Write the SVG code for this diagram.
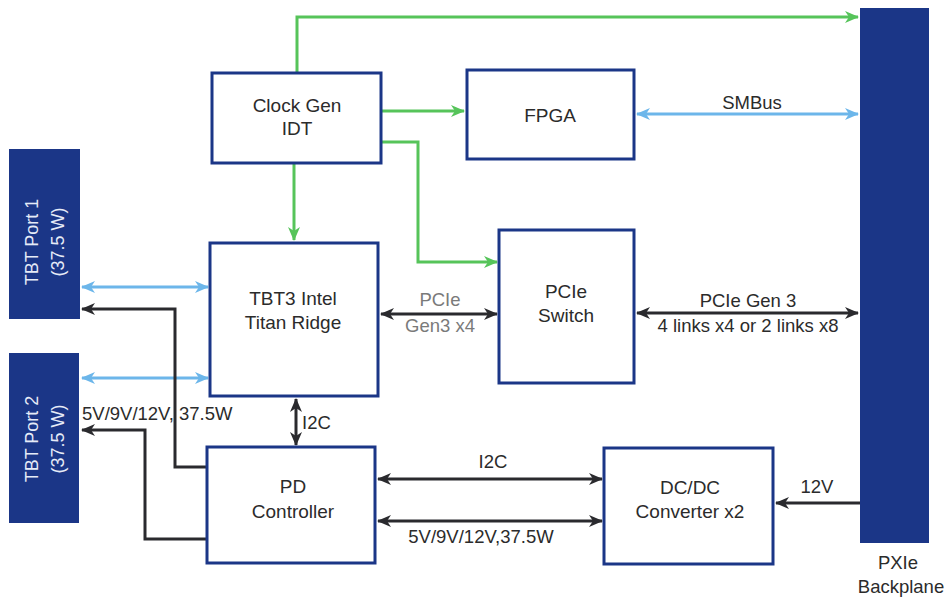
<svg xmlns="http://www.w3.org/2000/svg" width="946" height="600" viewBox="0 0 946 600">
<style>
.box{fill:#fff;stroke:#1b3687;stroke-width:3}
.bar{fill:#1b3687}
.t{font-family:"Liberation Sans",Arial,sans-serif;font-size:18.5px;fill:#2b2b2b;text-anchor:middle}
.tw{font-family:"Liberation Sans",Arial,sans-serif;font-size:18px;fill:#e6ebf7;text-anchor:middle}
.g{fill:none;stroke:#56c45a;stroke-width:3}
.b{fill:none;stroke:#6cb6ea;stroke-width:3}
.k{fill:none;stroke:#2a2a2e;stroke-width:3}
</style>
<defs>
<marker id="mg" viewBox="0 0 14 12" refX="13" refY="6" markerWidth="14" markerHeight="12" markerUnits="userSpaceOnUse" orient="auto-start-reverse"><path d="M0,0 L14,6 L0,12 L4,6 z" fill="#56c45a"/></marker>
<marker id="mb" viewBox="0 0 14 12" refX="13" refY="6" markerWidth="14" markerHeight="12" markerUnits="userSpaceOnUse" orient="auto-start-reverse"><path d="M0,0 L14,6 L0,12 L4,6 z" fill="#6cb6ea"/></marker>
<marker id="mk" viewBox="0 0 14 12" refX="13" refY="6" markerWidth="14" markerHeight="12" markerUnits="userSpaceOnUse" orient="auto-start-reverse"><path d="M0,0 L14,6 L0,12 L4,6 z" fill="#2a2a2e"/></marker>
</defs>
<rect width="946" height="600" fill="#fff"/>

<g id="connectors">
<path class="g" d="M297,73 V17 H858" marker-end="url(#mg)"/>
<path class="g" d="M382,111 H464" marker-end="url(#mg)"/>
<path class="g" d="M382,142 H418 V262 H497" marker-end="url(#mg)"/>
<path class="g" d="M294,164 V240" marker-end="url(#mg)"/>
<path class="b" d="M637,114 H858" marker-start="url(#mb)" marker-end="url(#mb)"/>
<path class="b" d="M82,287 H208" marker-start="url(#mb)" marker-end="url(#mb)"/>
<path class="b" d="M82,378 H208" marker-start="url(#mb)" marker-end="url(#mb)"/>
<path class="k" d="M207,467 H175 V309 H82" marker-end="url(#mk)"/>
<path class="k" d="M207,539 H145 V430 H82" marker-end="url(#mk)"/>
<path class="k" d="M381,314 H497" marker-start="url(#mk)" marker-end="url(#mk)"/>
<path class="k" d="M637,313 H858" marker-start="url(#mk)" marker-end="url(#mk)"/>
<path class="k" d="M296,399 V445" marker-start="url(#mk)" marker-end="url(#mk)"/>
<path class="k" d="M378,479 H602" marker-start="url(#mk)" marker-end="url(#mk)"/>
<path class="k" d="M378,521 H602" marker-start="url(#mk)" marker-end="url(#mk)"/>
<path class="k" d="M860,503 H776" marker-end="url(#mk)"/>
<text class="t" x="752" y="109">SMBus</text>
<text class="t" x="440" y="306" style="fill:#7a7a7a">PCIe</text>
<text class="t" x="440" y="332" style="fill:#7a7a7a">Gen3 x4</text>
<text class="t" x="748" y="307">PCIe Gen 3</text>
<text class="t" x="748" y="332">4 links x4 or 2 links x8</text>
<text class="t" x="82" y="420" style="text-anchor:start">5V/9V/12V, 37.5W</text>
<text class="t" x="302" y="429" style="text-anchor:start">I2C</text>
<text class="t" x="493" y="468">I2C</text>
<text class="t" x="481" y="543">5V/9V/12V,37.5W</text>
<text class="t" x="817" y="493">12V</text>
</g>

<g id="backplane">
<rect class="bar" x="860" y="8" width="69" height="535"/>
<text class="t" x="898" y="569">PXIe</text>
<text class="t" x="901" y="593">Backplane</text>
</g>
<g id="port1">
<rect class="bar" x="9" y="149" width="71" height="170"/>
<text class="tw" font-family="Liberation Sans, Arial, sans-serif" transform="translate(38,242) rotate(-90)">TBT Port 1</text>
<text class="tw" font-family="Liberation Sans, Arial, sans-serif" transform="translate(64,242) rotate(-90)">(37.5 W)</text>
</g>
<g id="port2">
<rect class="bar" x="9" y="353" width="70" height="170"/>
<text class="tw" font-family="Liberation Sans, Arial, sans-serif" transform="translate(38,439) rotate(-90)">TBT Port 2</text>
<text class="tw" font-family="Liberation Sans, Arial, sans-serif" transform="translate(64,439) rotate(-90)">(37.5 W)</text>
</g>
<g id="clockgen">
<rect class="box" x="212" y="73" width="169" height="90"/>
<text class="t" x="297" y="112" style="font-size:19px">Clock Gen</text>
<text class="t" x="297" y="135" style="font-size:19px">IDT</text>
</g>
<g id="fpga">
<rect class="box" x="467" y="70" width="167" height="89"/>
<text class="t" x="550" y="122" style="font-size:19px">FPGA</text>
</g>
<g id="tbt3">
<rect class="box" x="210" y="243" width="168" height="153"/>
<text class="t" x="293" y="305" style="font-size:19px">TBT3 Intel</text>
<text class="t" x="293" y="329" style="font-size:19px">Titan Ridge</text>
</g>
<g id="pcieswitch">
<rect class="box" x="499" y="230" width="135" height="153"/>
<text class="t" x="566" y="298" style="font-size:19px">PCIe</text>
<text class="t" x="566" y="322" style="font-size:19px">Switch</text>
</g>
<g id="pdcontroller">
<rect class="box" x="207" y="447" width="168" height="116"/>
<text class="t" x="293" y="493" style="font-size:19px">PD</text>
<text class="t" x="293" y="518" style="font-size:19px">Controller</text>
</g>
<g id="dcdc">
<rect class="box" x="604" y="448" width="169" height="116"/>
<text class="t" x="690" y="494" style="font-size:19px">DC/DC</text>
<text class="t" x="690" y="518" style="font-size:19px">Converter x2</text>
</g>
</svg>
